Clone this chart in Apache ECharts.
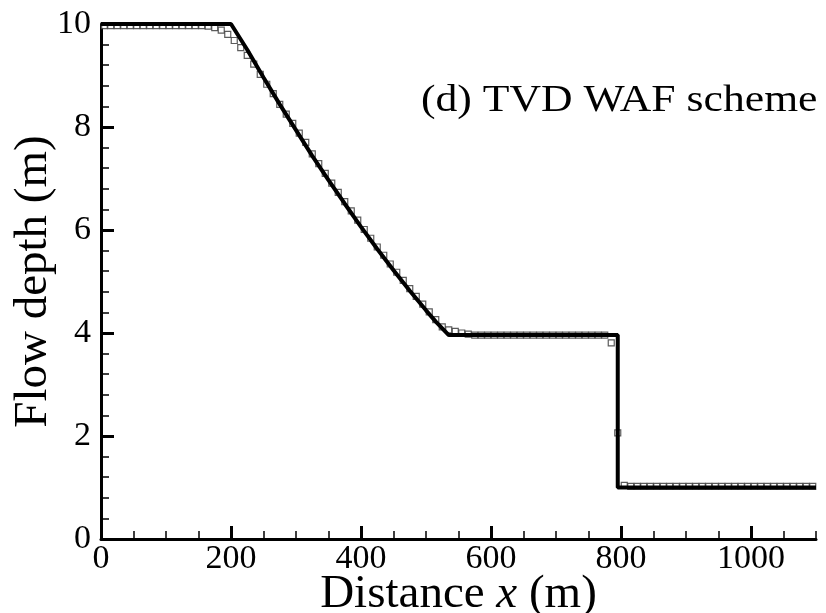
<!DOCTYPE html>
<html lang="en">

<head>
    <meta charset="UTF-8">
    <title>Flow depth</title>
    <style>
        body,
        html {
            margin: 0;
            height: 100%;
            overflow: hidden;
            background: #fff;
        }

        #main {
            width: 826px;
            height: 613px;
        }
    </style>
</head>

<body>
    <div id="main"></div>
    <script src="https://cdn.jsdelivr.net/npm/echarts@6/dist/echarts.min.js"></script>
    <script type="text/javascript">
        // exact solution (thick line)
        const exactX = [0, 200, 225, 250, 275, 300, 325, 350, 375, 400, 425, 450, 475, 500, 515, 535, 795, 795, 1100];
        const exactH = [10, 10, 9.50, 8.96, 8.44, 7.94, 7.44, 6.97, 6.51, 6.06, 5.63, 5.22, 4.82, 4.44, 4.22, 3.96, 3.96, 1, 1];

        // TVD WAF results (squares), cell centres
        const numX = [5, 15, 25, 35, 45, 55, 65, 75, 85, 95, 105, 115, 125, 135, 145, 155,
            165, 175, 185, 195, 205, 215, 225, 235, 245, 255, 265, 275, 285, 295, 305, 315,
            325, 335, 345, 355, 365, 375, 385, 395, 405, 415, 425, 435, 445, 455, 465, 475, 485, 495, 505, 515, 525,
            535, 545, 555, 565,
            575, 585, 595, 605, 615, 625, 635, 645, 655, 665, 675, 685, 695, 705, 715, 725, 735, 745, 755, 765, 775,
            785, 795, 805,
            815, 825, 835, 845, 855, 865, 875, 885, 895, 905, 915, 925, 935, 945, 955, 965, 975, 985, 995,
            1005, 1015, 1025, 1035, 1045, 1055, 1065, 1075, 1085, 1095];
        const numH = [9.97, 9.97, 9.97, 9.97, 9.97, 9.97, 9.97, 9.97, 9.97, 9.97, 9.97, 9.97, 9.97, 9.97, 9.97, 9.97,
            9.96, 9.93, 9.88, 9.80, 9.68, 9.54, 9.39, 9.22, 9.02, 8.83, 8.65, 8.44, 8.25, 8.07, 7.88, 7.70,
            7.48, 7.29, 7.10, 6.91, 6.73, 6.55, 6.37, 6.19, 6.01, 5.84, 5.67, 5.51, 5.34, 5.18, 5.02, 4.86, 4.71, 4.56, 4.41, 4.26, 4.12,
            4.06, 4.03, 4.00, 3.98,
            3.96, 3.96, 3.96, 3.96, 3.96, 3.96, 3.96, 3.96, 3.96, 3.96, 3.96, 3.96, 3.96, 3.96, 3.96, 3.96, 3.96, 3.96, 3.96, 3.96, 3.96,
            3.81, 2.06, 1.04,
            1.02, 1.02, 1.02, 1.02, 1.02, 1.02, 1.02, 1.02, 1.02, 1.02, 1.02, 1.02, 1.02, 1.02, 1.02, 1.02, 1.02, 1.02, 1.02,
            1.02, 1.02, 1.02, 1.02, 1.02, 1.02, 1.02, 1.02, 1.02, 1.02];

        // tick positions on x
        const xMajor = [0, 200, 400, 600, 800, 1000];
        const xMinor = [50, 100, 150, 250, 300, 350, 450, 500, 550, 650, 700, 750, 850, 900, 950, 1050, 1100];

        const font = '"Liberation Serif", "Times New Roman", serif';

        var myChart = echarts.init(document.getElementById('main'));

        var option = {
            animation: false,
            grid: {
                left: 101,
                right: 10,
                top: 24,
                bottom: 74,
                containLabel: false,
                outerBoundsMode: 'none'
            },
            xAxis: [
                {
                    type: 'value',
                    min: 0,
                    max: 1100,
                    name: 'Distance {i|x} (m)',
                    nameLocation: 'middle',
                    nameMoveOverlap: false,
                    nameGap: 32,
                    nameTextStyle: {
                        fontFamily: font,
                        fontSize: 47,
                        color: '#000',
                        rich: {
                            i: { fontFamily: font, fontSize: 47, fontStyle: 'italic', color: '#000' }
                        }
                    },
                    axisLine: { lineStyle: { color: '#000', width: 3 } },
                    axisTick: {
                        customValues: xMajor,
                        inside: true,
                        length: 13,
                        lineStyle: { color: '#000', width: 3 }
                    },
                    axisLabel: {
                        customValues: xMajor,
                        margin: 3,
                        fontFamily: font,
                        fontSize: 34,
                        color: '#000',
                        formatter: v => String(v)
                    },
                    splitLine: { show: false }
                },
                {
                    // minor ticks only
                    type: 'value',
                    min: 0,
                    max: 1100,
                    position: 'bottom',
                    axisLine: { show: false },
                    axisTick: {
                        customValues: xMinor,
                        inside: true,
                        length: 8,
                        lineStyle: { color: '#000', width: 1.5 }
                    },
                    axisLabel: { show: false },
                    splitLine: { show: false }
                }
            ],
            yAxis: {
                type: 'value',
                min: 0,
                max: 10,
                interval: 2,
                name: 'Flow depth (m)',
                nameLocation: 'middle',
                nameMoveOverlap: false,
                nameGap: 44,
                nameTextStyle: {
                    fontFamily: font,
                    fontSize: 47,
                    color: '#000'
                },
                axisLine: { show: true, lineStyle: { color: '#000', width: 3 } },
                axisTick: {
                    show: true,
                    inside: true,
                    length: 13,
                    lineStyle: { color: '#000', width: 3 }
                },
                minorTick: {
                    show: true,
                    splitNumber: 5,
                    length: 8,
                    lineStyle: { color: '#000', width: 1.5 }
                },
                axisLabel: {
                    margin: 10,
                    fontFamily: font,
                    fontSize: 34,
                    color: '#000'
                },
                splitLine: { show: false }
            },
            series: [
                {
                    name: 'TVD WAF',
                    type: 'scatter',
                    symbol: 'rect',
                    symbolSize: 6,
                    data: numX.map((x, i) => [x, numH[i]]),
                    itemStyle: {
                        color: '#fff',
                        borderColor: '#333',
                        borderWidth: 1.2
                    },
                    z: 2
                },
                {
                    name: 'Exact',
                    type: 'line',
                    symbol: 'none',
                    data: exactX.map((x, i) => [x, exactH[i]]),
                    lineStyle: { color: '#000', width: 4 },
                    z: 3
                }
            ],
            graphic: {
                elements: [
                    {
                        type: 'text',
                        x: 421,
                        y: 83,
                        scaleX: 1.18,
                        style: {
                            text: '(d) TVD WAF scheme',
                            font: '37px ' + font,
                            fill: '#000',
                            textVerticalAlign: 'top'
                        }
                    }
                ]
            }
        };

        myChart.setOption(option);
    </script>
</body>

</html>
